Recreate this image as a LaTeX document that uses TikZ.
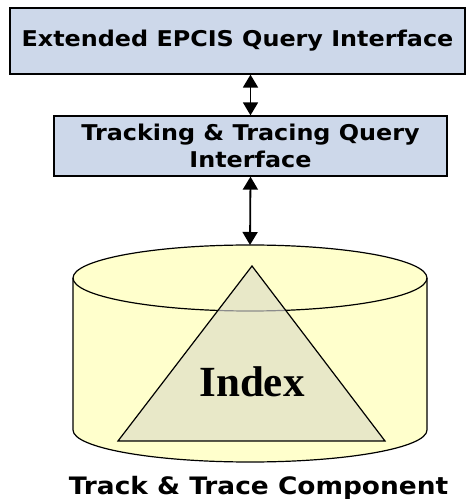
\documentclass[tikz,border=0pt]{standalone}
\usepackage{fontspec}
\setmainfont{DejaVu Sans}
\newfontfamily\labelfont[FakeStretch=1.1]{DejaVu Sans}
\newfontfamily\indexfont{Liberation Serif}
\usetikzlibrary{arrows.meta}
\definecolor{boxblue}{HTML}{CDD8EA}
\definecolor{dbyellow}{HTML}{FFFFCC}
\definecolor{idxfill}{HTML}{E8E8C8}
\tikzset{
  qbox/.style={draw=black, line width=1.3pt, fill=boxblue, inner sep=0pt,
    align=center, font=\labelfont\bfseries\fontsize{21.7}{27}\selectfont},
  link/.style={line width=1.8pt, {Triangle[length=13pt,width=15pt]}-{Triangle[length=13pt,width=15pt]}},
  dbline/.style={draw=black, line width=1.2pt},
}
\begin{document}
\begin{tikzpicture}[x=1pt,y=1pt]
  \useasboundingbox (0,0) rectangle (467,500);
  % query interfaces
  \node[qbox, minimum width=455pt, minimum height=66pt] (ext) at (237.5,459) {Extended EPCIS Query Interface};
  \node[qbox, minimum width=393pt, minimum height=60pt] (tt) at (250.5,354) {Tracking \& Tracing Query\\Interface};
  % database cylinder
  \coordinate (dbtop) at (250,255);
  \fill[dbyellow] (73,222) -- (73,70) arc[start angle=180, end angle=360, x radius=177, y radius=32]
      -- (427,222) arc[start angle=0, end angle=180, x radius=177, y radius=33] -- cycle;
  \draw[dbline] (73,222) -- (73,70) arc[start angle=180, end angle=360, x radius=177, y radius=32] -- (427,222);
  \draw[dbline] (250,222) ellipse[x radius=177, y radius=33];
  % index triangle
  \coordinate (apex) at (252,234);
  \coordinate (bl) at (118,59);
  \coordinate (br) at (385,59);
  \fill[idxfill] (apex) -- (bl) -- (br) -- cycle;
  \begin{scope}
    \clip (apex) -- (bl) -- (br) -- cycle;
    \draw[black!45, line width=1.2pt] (427,222) arc[start angle=0, end angle=-180, x radius=177, y radius=33];
  \end{scope}
  \draw[line width=1.2pt, line join=miter] (apex) -- (bl) -- (br) -- cycle;
  \node[font=\indexfont\bfseries\fontsize{43}{50}\selectfont] (idx) at (252,118) {Index};
  % caption
  \node[font=\labelfont\bfseries\fontsize{24}{28}\selectfont] (cap) at (258.5,12) {Track \& Trace Component};
  % connectors
  \draw[link] (tt.north) -- (tt.north |- ext.south);
  \draw[link] (tt.south) -- (dbtop);
\end{tikzpicture}
\end{document}
